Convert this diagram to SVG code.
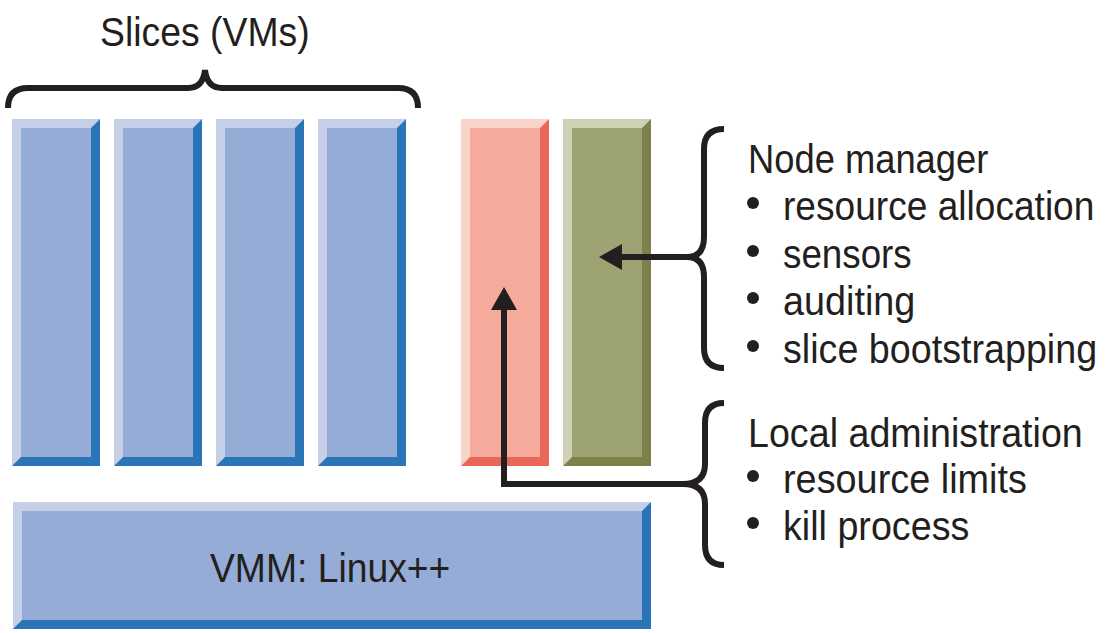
<svg xmlns="http://www.w3.org/2000/svg" width="1107" height="633" viewBox="0 0 1107 633">
<style>
.t{font-family:"Liberation Sans Narrow","Liberation Sans",Arial,sans-serif;font-size:41px;fill:#231f20}
.ln{fill:none;stroke:#231f20;stroke-width:6}
.bl .hi{fill:#c5cfe8}.bl .lo{fill:#2a74b8}.bl .fc{fill:#94acd6}
.rd .hi{fill:#f9d4c8}.rd .lo{fill:#e8675a}.rd .fc{fill:#f4ab9c}
.gr .hi{fill:#cfd1b5}.gr .lo{fill:#7d8149}.gr .fc{fill:#9ea373}
.bul{fill:#231f20}
</style>
<rect width="1107" height="633" fill="#fff"/>
<g id="slice1" class="bl">
<rect class="lo" x="12" y="119" width="88" height="347"/>
<polygon class="hi" points="12,119 100,119 91,128 21,128 21,457 12,466"/>
<rect class="fc" x="21" y="128" width="70" height="329"/>
</g>
<g id="slice2" class="bl">
<rect class="lo" x="114" y="119" width="88" height="347"/>
<polygon class="hi" points="114,119 202,119 193,128 123,128 123,457 114,466"/>
<rect class="fc" x="123" y="128" width="70" height="329"/>
</g>
<g id="slice3" class="bl">
<rect class="lo" x="216" y="119" width="88" height="347"/>
<polygon class="hi" points="216,119 304,119 295,128 225,128 225,457 216,466"/>
<rect class="fc" x="225" y="128" width="70" height="329"/>
</g>
<g id="slice4" class="bl">
<rect class="lo" x="318" y="119" width="88" height="347"/>
<polygon class="hi" points="318,119 406,119 397,128 327,128 327,457 318,466"/>
<rect class="fc" x="327" y="128" width="70" height="329"/>
</g>
<g id="local-admin-vm" class="rd">
<rect class="lo" x="461" y="119" width="88" height="347"/>
<polygon class="hi" points="461,119 549,119 540,128 470,128 470,457 461,466"/>
<rect class="fc" x="470" y="128" width="70" height="329"/>
</g>
<g id="node-manager-vm" class="gr">
<rect class="lo" x="563" y="119" width="88" height="347"/>
<polygon class="hi" points="563,119 651,119 642,128 572,128 572,457 563,466"/>
<rect class="fc" x="572" y="128" width="70" height="329"/>
</g>
<g id="vmm" class="bl">
<rect class="lo" x="13" y="502" width="638" height="127"/>
<polygon class="hi" points="13,502 651,502 642,511 22,511 22,620 13,629"/>
<rect class="fc" x="22" y="511" width="620" height="109"/>
<text class="t" transform="translate(210,582) scale(0.9,1)" x="0" y="0" textLength="267" lengthAdjust="spacingAndGlyphs">VMM: Linux++</text>
</g>
<g id="slices-label">
<path class="ln" d="M8,108 Q8,88 28,88 L188,88 Q203,88 205,70 Q207,88 222,88 L398,88 Q418,88 418,108"/>
<text class="t" transform="translate(100,46) scale(0.9,1)" x="0" y="0" textLength="233" lengthAdjust="spacingAndGlyphs">Slices (VMs)</text>
</g>
<g id="node-manager-label">
<path class="ln" d="M724,129 Q704,129 704,149 L704,237 Q704,257 687,257 Q704,257 704,277 L704,348 Q704,368 724,368"/>
<text class="t" transform="translate(748,173) scale(0.9,1)" x="0" y="0" textLength="267" lengthAdjust="spacingAndGlyphs">Node manager</text>
<circle class="bul" cx="753" cy="203" r="6"/>
<text class="t" transform="translate(783,220) scale(0.9,1)" x="0" y="0" textLength="346" lengthAdjust="spacingAndGlyphs">resource allocation</text>
<circle class="bul" cx="753" cy="251" r="6"/>
<text class="t" transform="translate(783,268) scale(0.9,1)" x="0" y="0" textLength="143" lengthAdjust="spacingAndGlyphs">sensors</text>
<circle class="bul" cx="753" cy="298" r="6"/>
<text class="t" transform="translate(783,315) scale(0.9,1)" x="0" y="0" textLength="147" lengthAdjust="spacingAndGlyphs">auditing</text>
<circle class="bul" cx="753" cy="346" r="6"/>
<text class="t" transform="translate(783,363) scale(0.9,1)" x="0" y="0" textLength="349" lengthAdjust="spacingAndGlyphs">slice bootstrapping</text>
</g>
<g id="local-admin-label">
<path class="ln" d="M724,403 Q705,403 705,423 L705,464 Q705,484 683,484 Q705,484 705,504 L705,545 Q705,565 724,565"/>
<text class="t" transform="translate(748,447) scale(0.9,1)" x="0" y="0" textLength="372" lengthAdjust="spacingAndGlyphs">Local administration</text>
<circle class="bul" cx="753" cy="476" r="6"/>
<text class="t" transform="translate(783,493) scale(0.9,1)" x="0" y="0" textLength="271" lengthAdjust="spacingAndGlyphs">resource limits</text>
<circle class="bul" cx="753" cy="523" r="6"/>
<text class="t" transform="translate(783,540) scale(0.9,1)" x="0" y="0" textLength="207" lengthAdjust="spacingAndGlyphs">kill process</text>
</g>
<g id="connectors">
<path class="ln" d="M687,257 L618,257"/>
<polygon fill="#231f20" points="599,257 622,244 622,270"/>
<path class="ln" d="M683,484 L504,484 L504,306"/>
<polygon fill="#231f20" points="504,287 491,310 517,310"/>
</g>
</svg>
